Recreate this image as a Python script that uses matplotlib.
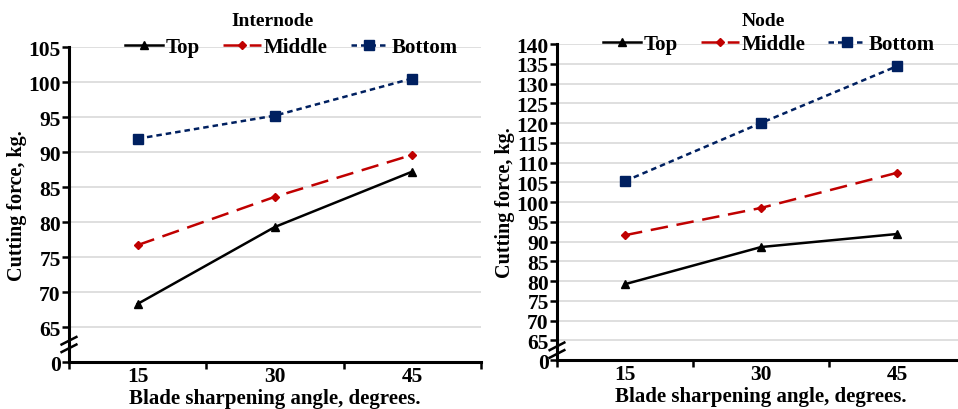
import matplotlib.pyplot as plt
import numpy as np

plt.rcParams['font.family'] = ['Liberation Serif', 'DejaVu Serif']
plt.rcParams['font.weight'] = 'bold'

angles = ['15', '30', '45']
series = ['Top', 'Middle', 'Bottom']

# Internode
internode_top = [68.3, 79.3, 87.2]
internode_middle = [76.7, 83.6, 89.6]
internode_bottom = [91.9, 95.2, 100.5]

# Node
node_top = [79.2, 88.6, 91.9]
node_middle = [91.6, 98.5, 107.4]
node_bottom = [105.3, 120.0, 134.4]

# styles
colors = ['black', '#C00000', '#002060']
markers = ['^', 'D', 's']
msizes = [6, 4.5, 7.5]
dashes = [None, (7, 3.5), (2.2, 1.6)]

fig = plt.figure(figsize=(9.58, 4.10), dpi=100)


def panel(rect, title, data, ymax, title_x, leg_x):
    ax = fig.add_axes(rect)
    x = np.arange(len(angles))
    for vals, name, c, m, ms, d in zip(data, series, colors, markers, msizes, dashes):
        line, = ax.plot(x, vals, color=c, marker=m, markersize=ms, lw=1.8,
                        label=name, zorder=3)
        if d is not None:
            line.set_dashes(d)
    ax.set_xlim(-0.5, 2.5)
    ax.set_ylim(60, ymax)
    yt = np.arange(60, ymax + 1, 5)
    ax.set_yticks(yt)
    ax.set_yticklabels(['0'] + [str(v) for v in yt[1:]])
    for v in yt[1:]:
        ax.axhline(v, color='#D9D9D9', lw=1.2, zorder=1)
    ax.set_xticks([-0.5, 0.5, 1.5, 2.5])
    ax.set_xticklabels([])
    ax.set_xticks(x, minor=True)
    ax.set_xticklabels(angles, minor=True)
    ax.tick_params(axis='x', which='major', length=5, width=1.8, direction='out')
    ax.tick_params(axis='x', which='minor', length=0, pad=3, labelsize=15.5)
    ax.tick_params(axis='y', length=5, width=1.8, labelsize=15.5, pad=1)
    for s in ['top', 'right']:
        ax.spines[s].set_visible(False)
    for s in ['left', 'bottom']:
        ax.spines[s].set_linewidth(2.2)
    ax.set_xlabel('Blade sharpening angle, degrees.', fontsize=15, fontweight='bold', labelpad=1)
    ax.set_ylabel('Cutting force, kg.', fontsize=14.5, fontweight='bold', labelpad=1)
    fig.text(title_x, 0.948, title, fontsize=14, fontweight='bold', ha='center', va='center')
    ax.legend(ncol=3, frameon=False, loc='center', bbox_to_anchor=(leg_x, 1.0),
              fontsize=15, handlelength=1.8, handletextpad=0.15, columnspacing=1.1,
              borderaxespad=0)
    # axis break marks
    yb = (62.5 - 60) / (ymax - 60)
    for off in [-0.012, 0.012]:
        ax.plot([-0.018, 0.018], [yb + off - 0.012, yb + off + 0.012],
                transform=ax.transAxes, color='black', lw=1.8, clip_on=False, zorder=5)
    return ax


panel([0.072, 0.1146, 0.430, 0.7683], 'Internode',
      [internode_top, internode_middle, internode_bottom], 105, 0.284, 0.54)
panel([0.5814, 0.1195, 0.426, 0.7707], 'Node',
      [node_top, node_middle, node_bottom], 140, 0.797, 0.52)

fig.savefig('out.png', dpi=100)
